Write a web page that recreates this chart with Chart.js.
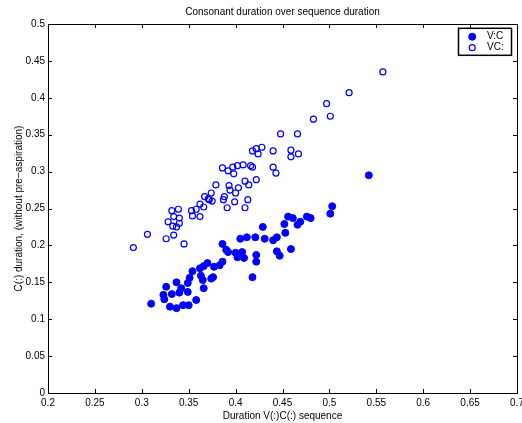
<!DOCTYPE html>
<html>
<head>
<meta charset="utf-8">
<script src="https://cdn.jsdelivr.net/npm/chart.js@4/dist/chart.umd.min.js"></script>
<style>
  html, body { margin: 0; padding: 0; background: #fff; }
  #wrap { width: 522px; height: 423px; }
</style>
</head>
<body>
<div id="wrap"><canvas id="scatter"></canvas></div>
<script>
// V:C  (long vowel, short consonant) - filled markers
const vLongX = [0.310, 0.323, 0.324, 0.330, 0.337, 0.344, 0.350, 0.358, 0.326, 0.332,
  0.337, 0.342, 0.340, 0.349, 0.349, 0.351, 0.354, 0.363, 0.365, 0.366,
  0.362, 0.366, 0.370, 0.374, 0.376, 0.377, 0.383, 0.386, 0.386, 0.390,
  0.392, 0.400, 0.402, 0.407, 0.409, 0.405, 0.412, 0.421, 0.422, 0.422,
  0.418, 0.429, 0.431, 0.440, 0.444, 0.444, 0.447, 0.452, 0.453, 0.456,
  0.461, 0.466, 0.469, 0.476, 0.480, 0.459, 0.501, 0.503, 0.542];
const vLongY = [0.121, 0.133, 0.127, 0.117, 0.115, 0.119, 0.119, 0.126, 0.144, 0.134,
  0.150, 0.142, 0.136, 0.137, 0.149, 0.156, 0.165, 0.159, 0.153, 0.142,
  0.169, 0.172, 0.176, 0.155, 0.157, 0.171, 0.173, 0.178, 0.202, 0.194,
  0.191, 0.190, 0.184, 0.191, 0.183, 0.209, 0.211, 0.211, 0.187, 0.178,
  0.157, 0.225, 0.209, 0.207, 0.211, 0.192, 0.186, 0.229, 0.217, 0.239,
  0.237, 0.228, 0.232, 0.239, 0.237, 0.195, 0.243, 0.253, 0.295];

// VC:  (short vowel, long consonant) - open markers
const cLongX = [0.291, 0.306, 0.326, 0.334, 0.345, 0.332, 0.339, 0.328, 0.334, 0.340,
  0.340, 0.333, 0.337, 0.353, 0.354, 0.358, 0.362, 0.362, 0.366, 0.367,
  0.371, 0.374, 0.375, 0.372, 0.379, 0.388, 0.387, 0.391, 0.394, 0.399,
  0.393, 0.403, 0.400, 0.410, 0.413, 0.410, 0.414, 0.422, 0.386, 0.392,
  0.397, 0.402, 0.398, 0.408, 0.416, 0.418, 0.440, 0.443, 0.418, 0.422,
  0.424, 0.428, 0.440, 0.459, 0.467, 0.459, 0.448, 0.466, 0.483, 0.501,
  0.497, 0.521, 0.557];
const cLongY = [0.197, 0.215, 0.209, 0.214, 0.202, 0.247, 0.249, 0.232, 0.239, 0.237,
  0.230, 0.226, 0.225, 0.247, 0.240, 0.249, 0.239, 0.256, 0.252, 0.266,
  0.263, 0.271, 0.260, 0.262, 0.282, 0.266, 0.262, 0.251, 0.275, 0.259,
  0.281, 0.278, 0.271, 0.251, 0.262, 0.287, 0.282, 0.289, 0.305, 0.301,
  0.306, 0.308, 0.297, 0.309, 0.308, 0.306, 0.306, 0.298, 0.328, 0.331,
  0.324, 0.333, 0.328, 0.329, 0.324, 0.320, 0.351, 0.351, 0.371, 0.375,
  0.392, 0.407, 0.435];

const seriesLabels = ["V:C", "VC:"];
const xRange = [0.2, 0.7];
const yRange = [0, 0.5];
const tickStep = 0.05;

const toPoints = (xs, ys) => xs.map((x, i) => ({ x: x, y: ys[i] }));
const tickFmt = (v) => String(Number(v.toFixed(2)));
const font = { family: "'Liberation Sans', Arial, Helvetica, sans-serif", size: 10 };

// force the axis boxes so the plot area sits where the matlab axes are
function fixSize(prop, size) {
  return (scale) => {
    scale[prop] = size;
    scale.paddingLeft = 0;
    scale.paddingRight = 0;
    scale.paddingTop = 0;
    scale.paddingBottom = 0;
  };
}

// no grid and no outside ticks; inward ticks come from the plugin below
const grid = { display: false, drawTicks: false, tickLength: 0 };
const border = { display: true, color: "#000", width: 1 };

// matlab style ticks pointing into the axes, on all four sides
const inwardTicks = {
  id: "inwardTicks",
  afterDraw(chart) {
    const ctx = chart.ctx;
    const a = chart.chartArea;
    const len = 4;
    ctx.save();
    ctx.strokeStyle = "#000";
    ctx.lineWidth = 1;
    ctx.beginPath();
    Object.values(chart.scales).forEach((s) => {
      s.ticks.forEach((t) => {
        const p = Math.round(s.getPixelForValue(t.value)) + 0.5;
        if (s.position === "bottom") { ctx.moveTo(p, a.bottom); ctx.lineTo(p, a.bottom - len); }
        if (s.position === "top") { ctx.moveTo(p, a.top); ctx.lineTo(p, a.top + len); }
        if (s.position === "left") { ctx.moveTo(a.left, p); ctx.lineTo(a.left + len, p); }
        if (s.position === "right") { ctx.moveTo(a.right, p); ctx.lineTo(a.right - len, p); }
      });
    });
    ctx.stroke();
    ctx.restore();
  }
};

// legend in a box at the upper right of the axes
const boxLegend = {
  id: "boxLegend",
  afterDatasetsDraw(chart) {
    const ctx = chart.ctx;
    const area = chart.chartArea;
    const w = 53, h = 27;
    const left = area.right - 5.5 - w;
    const top = area.top + 4.3;
    ctx.save();
    ctx.fillStyle = "#fff";
    ctx.fillRect(left, top, w, h);
    ctx.lineWidth = 1.5;
    ctx.strokeStyle = "#000";
    ctx.strokeRect(left, top, w, h);
    ctx.font = "10px 'Liberation Sans', Arial, sans-serif";
    ctx.textBaseline = "middle";
    chart.data.datasets.forEach((ds, i) => {
      const cy = top + 8.4 + i * 11;
      ctx.beginPath();
      ctx.arc(left + 13.7, cy, ds.pointRadius, 0, Math.PI * 2);
      ctx.fillStyle = ds.backgroundColor;
      ctx.fill();
      ctx.lineWidth = ds.borderWidth;
      ctx.strokeStyle = ds.borderColor;
      ctx.stroke();
      ctx.fillStyle = "#000";
      ctx.fillText(ds.label, left + 28.5, cy);
    });
    ctx.restore();
  }
};

new Chart(document.getElementById("scatter"), {
  type: "scatter",
  data: {
    datasets: [
      {
        label: seriesLabels[0],
        data: toPoints(vLongX, vLongY),
        backgroundColor: "#0000ff",
        borderColor: "#0000ff",
        borderWidth: 1,
        pointRadius: 3.5,
        pointHoverRadius: 3.5
      },
      {
        label: seriesLabels[1],
        data: toPoints(cLongX, cLongY),
        backgroundColor: "rgba(0,0,0,0)",
        borderColor: "#0000ff",
        borderWidth: 1.2,
        pointRadius: 3,
        pointHoverRadius: 3
      }
    ]
  },
  options: {
    responsive: true,
    maintainAspectRatio: false,
    animation: false,
    layout: { padding: 0 },
    plugins: {
      legend: { display: false },
      tooltip: { enabled: false }
    },
    scales: {
      x: {
        type: "linear",
        position: "bottom",
        min: xRange[0],
        max: xRange[1],
        ticks: { stepSize: tickStep, padding: 4, color: "#000", font: font, callback: tickFmt, maxRotation: 0, autoSkip: false },
        grid: grid,
        border: border,
        title: { display: true, text: "Duration V(:)C(:) sequence", color: "#000", font: font, padding: { top: 0, bottom: 1 } },
        afterFit: fixSize("height", 30)
      },
      xTop: {
        type: "linear",
        position: "top",
        min: xRange[0],
        max: xRange[1],
        ticks: { stepSize: tickStep, display: false },
        grid: grid,
        border: border,
        title: { display: true, text: "Consonant duration over sequence duration", color: "#000", font: font, padding: { top: 6.5, bottom: 0 } },
        afterFit: fixSize("height", 24)
      },
      y: {
        type: "linear",
        position: "left",
        min: yRange[0],
        max: yRange[1],
        ticks: { stepSize: tickStep, padding: 3, color: "#000", font: font, callback: tickFmt, autoSkip: false },
        grid: grid,
        border: border,
        title: { display: true, text: "C(:) duration, (without pre\u2212aspiration)", color: "#000", font: font, padding: { top: 13, bottom: 0 } },
        afterFit: fixSize("width", 48)
      },
      yRight: {
        type: "linear",
        position: "right",
        min: yRange[0],
        max: yRange[1],
        ticks: { stepSize: tickStep, display: false },
        grid: grid,
        border: border,
        afterFit: fixSize("width", 5)
      }
    }
  },
  plugins: [inwardTicks, boxLegend]
});
</script>
</body>
</html>
